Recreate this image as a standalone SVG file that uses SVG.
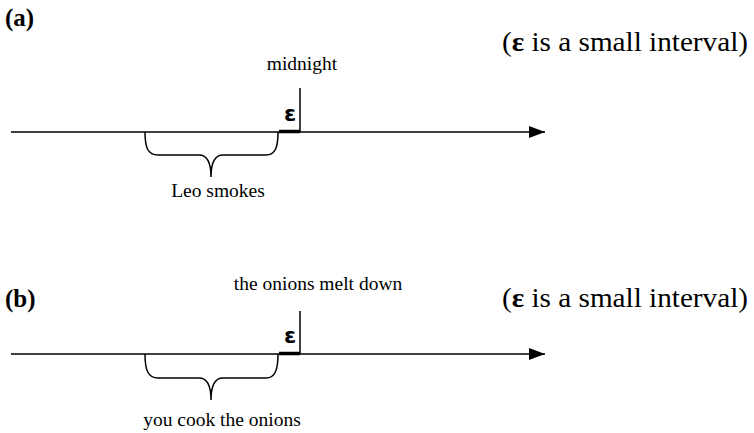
<svg xmlns="http://www.w3.org/2000/svg" width="754" height="433" viewBox="0 0 754 433">
<defs>
<marker id="arr" viewBox="0 0 10 10" refX="10" refY="5" markerWidth="16" markerHeight="12" markerUnits="userSpaceOnUse" orient="auto" preserveAspectRatio="none">
<path d="M0,0 L10,5 L0,10 z" fill="#000"/>
</marker>
<style>
.ser{font-family:"Liberation Serif","Times New Roman",serif;fill:#000}
.lbl{font-size:19.5px}
.note{font-size:27px}
.pan{font-size:25px;font-weight:bold}
.eps{font-family:"DejaVu Sans","Liberation Sans",sans-serif;font-weight:bold;font-size:22px;fill:#000}
.ln{stroke:#000;stroke-width:1.5;fill:none}
.thick{stroke:#000;stroke-width:3.5;fill:none}
</style>
</defs>
<rect width="754" height="433" fill="#fff"/>
<g id="panel-a">
<text class="ser pan" x="5" y="26">(a)</text>
<text class="ser note" x="502" y="51" textLength="246" lengthAdjust="spacingAndGlyphs">(<tspan font-weight="bold">ε</tspan> is a small interval)</text>
<g id="midnight"><text class="ser lbl" x="302" y="70" text-anchor="middle">midnight</text></g>
<g id="leo"><text class="ser lbl" x="218" y="197" text-anchor="middle">Leo smokes</text></g>
<text class="eps" x="290" y="121" text-anchor="middle">ε</text>
</g>
<g id="panel-b">
<text class="ser pan" x="5" y="307">(b)</text>
<text class="ser note" x="502" y="307" textLength="246" lengthAdjust="spacingAndGlyphs">(<tspan font-weight="bold">ε</tspan> is a small interval)</text>
<g id="melt"><text class="ser lbl" x="318" y="290" text-anchor="middle">the onions melt down</text></g>
<g id="cook"><text class="ser lbl" x="222" y="426" text-anchor="middle">you cook the onions</text></g>
<text class="eps" x="290" y="343" text-anchor="middle">ε</text>
</g>
<g id="connectors">
<line class="ln" x1="11" y1="132" x2="545" y2="132" marker-end="url(#arr)"/>
<line class="ln" x1="300" y1="88" x2="300" y2="132"/>
<line class="thick" x1="279" y1="131.5" x2="300" y2="131.5"/>
<path class="ln" d="M145,132 C145,148 148,155 158,155 L199,155 C207,155 211,162 211,177 C211,162 215,155 223,155 L266,155 C275,155 278,148 278,132"/>
<line class="ln" x1="11" y1="354" x2="545" y2="354" marker-end="url(#arr)"/>
<line class="ln" x1="300" y1="311" x2="300" y2="354"/>
<line class="thick" x1="279" y1="353.5" x2="300" y2="353.5"/>
<path class="ln" d="M145,354 C145,370 148,378 158,378 L199,378 C207,378 211,385 211,400 C211,385 215,378 223,378 L266,378 C275,378 278,370 278,354"/>
</g>
</svg>
